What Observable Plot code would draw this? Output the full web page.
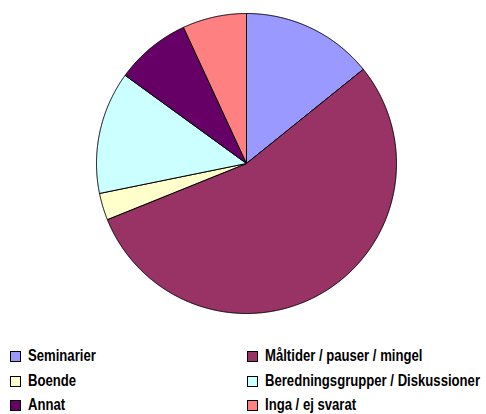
<!DOCTYPE html>
<html>
<head>
<meta charset="utf-8">
<script src="https://cdn.jsdelivr.net/npm/d3@7"></script>
<script src="https://cdn.jsdelivr.net/npm/@observablehq/plot@0.6"></script>
<style>
  html, body { margin: 0; padding: 0; background: #fff; }
  #wrap { position: relative; width: 486px; height: 414px; overflow: hidden; }
  #chart svg { display: block; }
  .item { position: absolute; font-family: "Liberation Sans Narrow", "Liberation Sans", sans-serif; font-stretch: condensed; font-weight: bold; font-size: 16px; line-height: 16px; color: #000; white-space: nowrap; transform-origin: 0 0; }
  .sw { position: absolute; width: 9px; height: 9px; border: 1px solid #000; }
</style>
</head>
<body>
<div id="wrap">
  <div id="chart"></div>
</div>
<script>
const categories = ["Seminarier", "Måltider / pauser / mingel", "Boende", "Beredningsgrupper / Diskussioner", "Annat", "Inga / ej svarat"];
const values = [14.2, 54.7, 2.9, 13.2, 8.1, 6.9];
const colors = ["#9999FF", "#993366", "#FFFFCC", "#CCFFFF", "#660066", "#FF8080"];

const table = categories.map((c, i) => ({category: c, value: values[i]}));
const arcs = d3.pie().sort(null).value(d => d.value)(table);

const pts = [];
arcs.forEach(a => {
  const cat = a.data.category;
  pts.push({category: cat, x: 0, y: 0});
  const n = Math.max(2, Math.ceil((a.endAngle - a.startAngle) / 0.005));
  for (let k = 0; k <= n; k++) {
    const t = a.startAngle + (a.endAngle - a.startAngle) * k / n;
    pts.push({category: cat, x: Math.sin(t), y: Math.cos(t)});
  }
  pts.push({category: cat, x: 0, y: 0});
});

const chart = Plot.plot({
  width: 486,
  height: 330,
  margin: 0,
  x: {domain: [-1, 1], range: [96, 396], axis: null},
  y: {domain: [-1, 1], range: [313, 13], axis: null},
  color: {domain: categories, range: colors},
  marks: [
    Plot.line(pts, {x: "x", y: "y", z: "category", fill: "category", stroke: "#000", strokeWidth: 1, strokeLinejoin: "round", curve: "linear"})
  ]
});
document.getElementById("chart").appendChild(chart);

const legendPos = [
  {x: 10, y: 351}, {x: 247, y: 351},
  {x: 10, y: 376}, {x: 247, y: 376},
  {x: 10, y: 400}, {x: 247, y: 400}
];
const wrap = document.getElementById("wrap");
const texts = [];
categories.forEach((c, i) => {
  const p = legendPos[i];
  const sw = document.createElement("div");
  sw.className = "sw";
  sw.style.left = p.x + "px";
  sw.style.top = p.y + "px";
  sw.style.background = colors[i];
  wrap.appendChild(sw);
  const t = document.createElement("div");
  t.className = "item";
  t.style.left = (p.x + 18) + "px";
  t.style.top = (p.y - 3) + "px";
  t.textContent = c;
  wrap.appendChild(t);
  texts.push(t);
});
const longest = texts[3].getBoundingClientRect().width;
const s = Math.min(1, 215 / longest);
texts.forEach(t => { t.style.transform = `scaleX(${s})`; });
</script>
</body>
</html>
